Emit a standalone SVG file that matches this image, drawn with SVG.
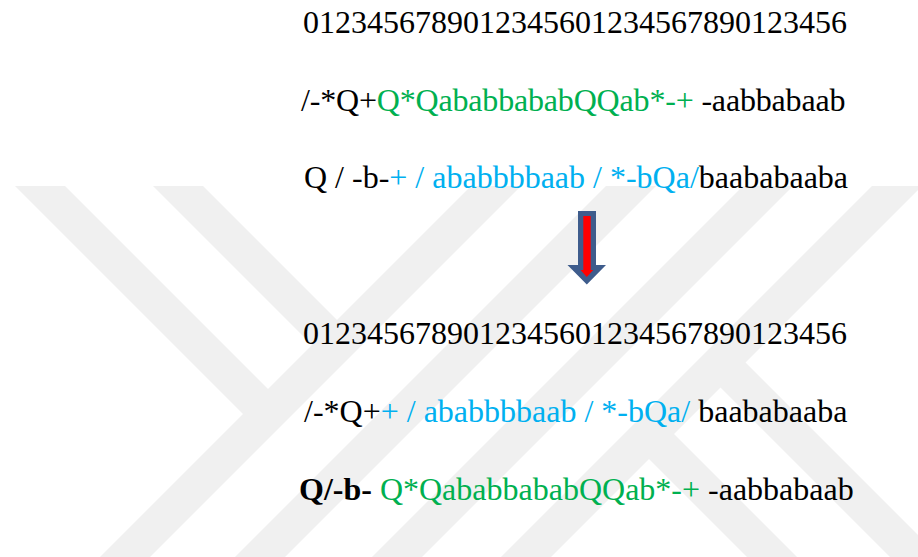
<svg xmlns="http://www.w3.org/2000/svg" width="918" height="557" viewBox="0 0 918 557">
  <defs>
    <style>
      .t { font-family: "Liberation Serif", "Times New Roman", serif; font-size: 32px; fill: #000000; }
      .g { fill: #00B050; }
      .b { fill: #00B0F0; }
      .bold { font-weight: bold; }
      .wm { fill: #F0F0F0; }
    </style>
  </defs>
  <rect x="0" y="0" width="918" height="557" fill="#FFFFFF"/>
  <g id="watermark">
    <polygon class="wm" points="15,186 65,186 280,401 255,426"/>
    <polygon class="wm" points="153,186 203,186 349,332 324,357"/>
    <polygon class="wm" points="471,186 521,186 150,557 100,557"/>
    <polygon class="wm" points="606,186 656,186 285,557 235,557"/>
    <polygon class="wm" points="743,186 793,186 422,557 372,557"/>
    <polygon class="wm" points="872,186 918,186 918,190 551,557 501,557"/>
    <polygon class="wm" points="733,350 918,535 918,557 890,557 708,375"/>
    <polygon class="wm" points="661.5,421.5 797,557 747,557 636.5,446.5"/>
  </g>
  <g id="line1">
    <text class="t" x="303" y="33">0123456789012345601234567890123456</text>
  </g>
  <g id="line2">
    <text class="t" x="301" y="111" letter-spacing="-0.18">/-*Q+<tspan class="g">Q*QababbababQQab*-+</tspan> -aabbabaab</text>
  </g>
  <g id="line3">
    <text class="t" x="304" y="188">Q / -b-<tspan class="b">+ / ababbbbaab / *-bQa/</tspan>baababaaba</text>
  </g>
  <g id="line4">
    <text class="t" x="303" y="344">0123456789012345601234567890123456</text>
  </g>
  <g id="line5">
    <text class="t" x="304" y="422">/-*Q+<tspan class="b">+ / ababbbbaab / *-bQa/</tspan> baababaaba</text>
  </g>
  <g id="line6">
    <text class="t" x="299" y="500"><tspan class="bold">Q/-b-</tspan><tspan class="g"> Q*QababbababQQab*-+</tspan> -aabbabaab</text>
  </g>
  <g id="connectors">
    <polygon points="578,211 596,211 596,265 606,265 586.8,284.5 567.5,265 578,265" fill="#3E5C8C"/>
    <polygon points="583.3,216 590.7,216 590.7,270 593.2,270 586.8,277 580.5,270 583.3,270" fill="#FF0000"/>
  </g>
</svg>
